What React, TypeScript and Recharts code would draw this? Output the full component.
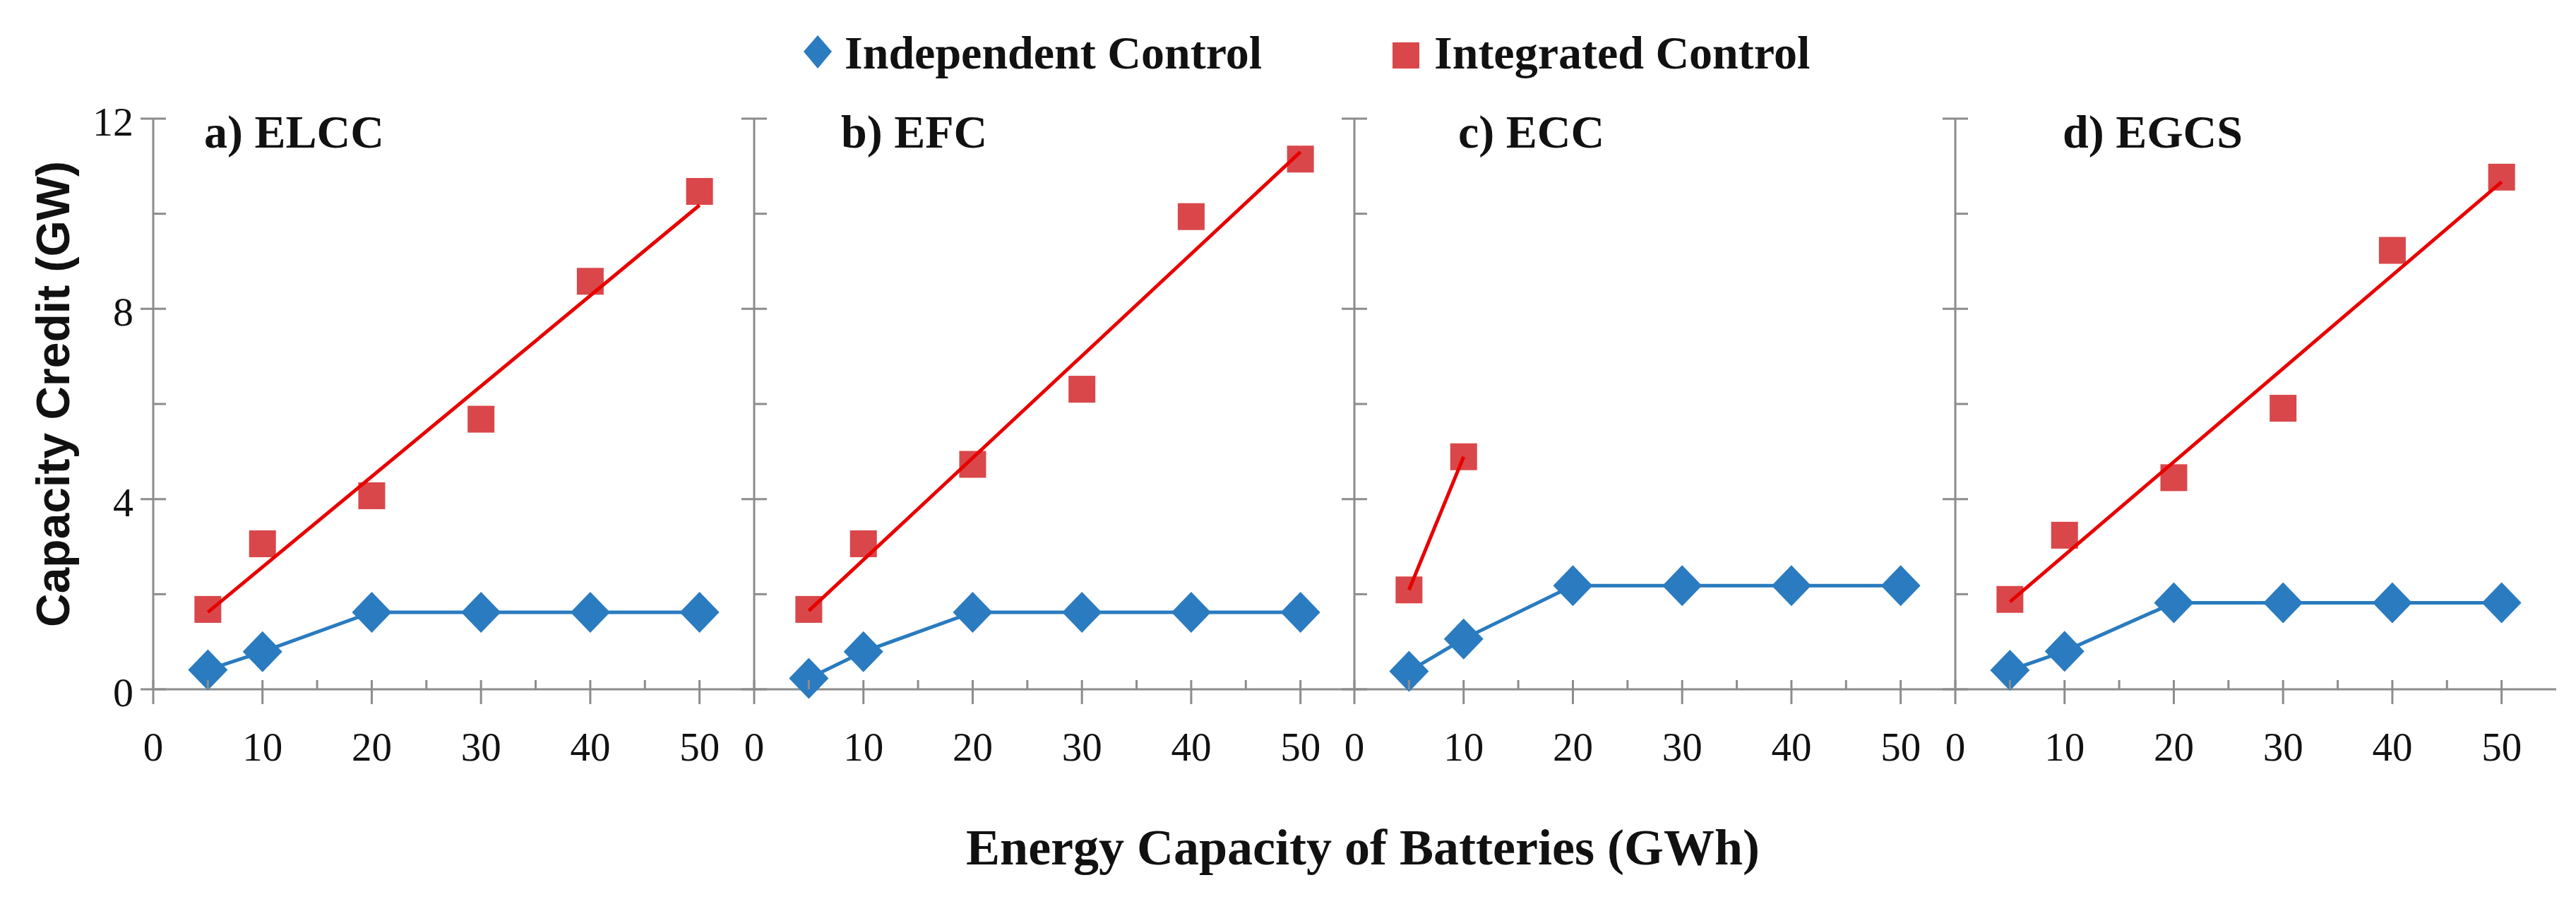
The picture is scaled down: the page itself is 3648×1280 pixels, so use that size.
import { ComposedChart, Line, Scatter, XAxis, YAxis } from "recharts"

// battery energy capacity (GWh)
const ENERGY = [5, 10, 20, 30, 40, 50]

// capacity credit (GW) per metric
const elccIndependent = [0.41, 0.79, 1.62, 1.62, 1.62, 1.62]
const elccIntegrated = [1.68, 3.06, 4.07, 5.68, 8.58, 10.47]
const elccTrend = [1.62, 10.18]

const efcIndependent = [0.23, 0.79, 1.62, 1.62, 1.62, 1.62]
const efcIntegrated = [1.68, 3.06, 4.73, 6.31, 9.94, 11.15]
const efcTrend = [1.65, 11.3]

const eccIndependent = [0.38, 1.06, 2.18, 2.18, 2.18, 2.18]
const eccIntegrated = [2.09, 4.89]
const eccTrend = [2.09, 4.89]

const egcsIndependent = [0.4, 0.8, 1.82, 1.82, 1.82, 1.82]
const egcsIntegrated = [1.89, 3.24, 4.45, 5.91, 9.23, 10.77]
const egcsTrend = [1.84, 10.67]

const TREND_X = [5, 50]
const TREND_X_ECC = [5, 10]

const X_TICKS = [0, 5, 10, 15, 20, 25, 30, 35, 40, 45, 50]
const Y_TICKS = [0, 2, 4, 6, 8, 10, 12]

const TITLES = ["a) ELCC", "b) EFC", "c) ECC", "d) EGCS"]

const BLUE = "#2a7bbf"
const RED_SQ = "#d9474a"
const RED_LINE = "#e80000"
const AXIS = "#8c8c8c"
const SERIF = "'Liberation Serif', 'DejaVu Serif', serif"
const SANS = "'Liberation Sans', Arial, sans-serif"

const pts = (xs: number[], ys: number[]) => xs.map((x, i) => ({ x, y: ys[i] }))

const panels = [
  { title: TITLES[0], ind: pts(ENERGY, elccIndependent), integ: pts(ENERGY, elccIntegrated), trend: pts(TREND_X, elccTrend) },
  { title: TITLES[1], ind: pts(ENERGY, efcIndependent), integ: pts(ENERGY, efcIntegrated), trend: pts(TREND_X, efcTrend) },
  { title: TITLES[2], ind: pts(ENERGY, eccIndependent), integ: pts(TREND_X_ECC, eccIntegrated), trend: pts(TREND_X_ECC, eccTrend) },
  { title: TITLES[3], ind: pts(ENERGY, egcsIndependent), integ: pts(ENERGY, egcsIntegrated), trend: pts(TREND_X, egcsTrend) },
]

// layout (px)
const AXIS_X = [217, 1068, 1918, 2769]
const TITLE_X = [289, 1191, 2065, 2921]
const PLOT_W = 851
const PLOT_TOP = 168
const PLOT_H = 808
const Y_AXIS_W = 130
const X_AXIS_H = 130
const M = { top: 68, right: 30, bottom: 0, left: 0 }

const XTick = (props: any) => {
  const { x, y, payload } = props
  const v = payload.value
  const major = v % 10 === 0
  return (
    <g>
      <line x1={x} x2={x} y1={y - 13} y2={major ? y + 21 : y} stroke={AXIS} strokeWidth={3} />
      {major && (
        <text x={x} y={y + 101} textAnchor="middle" fontFamily={SERIF} fontSize={57} fill="#111">
          {v}
        </text>
      )}
    </g>
  )
}

const makeYTick = (showLabels: boolean) => (props: any) => {
  const { x, y, payload } = props
  const v = payload.value
  const major = v % 4 === 0
  return (
    <g>
      <line x1={major ? x - 18 : x} x2={x + 18} y1={y} y2={y} stroke={AXIS} strokeWidth={3} />
      {showLabels && major && (
        <text x={x - 28} y={y + 24} textAnchor="end" fontFamily={SERIF} fontSize={58} fill="#111">
          {v}
        </text>
      )}
    </g>
  )
}

const Diamond = (props: any) => {
  const { cx, cy, index } = props
  if (cx == null || cy == null) return <g key={index} />
  return (
    <path
      key={index}
      d={`M${cx},${cy - 29} L${cx + 28},${cy} L${cx},${cy + 29} L${cx - 28},${cy} Z`}
      fill={BLUE}
    />
  )
}

const Square = (props: any) => {
  const { cx, cy } = props
  return <rect x={cx - 19} y={cy - 19} width={38} height={38} fill={RED_SQ} />
}

const NoShape = () => <g />

function Panel({ i }: { i: number }) {
  const p = panels[i]
  const w = Y_AXIS_W + PLOT_W + M.right
  const h = M.top + PLOT_H + X_AXIS_H
  return (
    <div style={{ position: "absolute", left: AXIS_X[i] - Y_AXIS_W, top: PLOT_TOP - M.top }}>
      <ComposedChart width={w} height={h} margin={M}>
        <XAxis
          type="number"
          dataKey="x"
          domain={[0, 55]}
          ticks={X_TICKS}
          interval={0}
          height={X_AXIS_H}
          tickSize={0}
          tickMargin={0}
          tickLine={false}
          axisLine={{ stroke: AXIS, strokeWidth: 3 }}
          tick={XTick}
        />
        <YAxis
          type="number"
          domain={[0, 12]}
          ticks={Y_TICKS}
          interval={0}
          width={Y_AXIS_W}
          tickSize={0}
          tickMargin={0}
          tickLine={false}
          axisLine={{ stroke: AXIS, strokeWidth: 3 }}
          tick={makeYTick(i === 0)}
        />
        <Line
          data={p.ind}
          dataKey="y"
          stroke={BLUE}
          strokeWidth={5}
          dot={Diamond}
          activeDot={false}
          isAnimationActive={false}
        />
        <Scatter data={p.integ} dataKey="y" shape={Square} isAnimationActive={false} />
        <Scatter
          data={p.trend}
          dataKey="y"
          line={{ stroke: RED_LINE, strokeWidth: 5 }}
          shape={NoShape}
          isAnimationActive={false}
        />
      </ComposedChart>
    </div>
  )
}

export default function App() {
  return (
    <div
      style={{
        position: "absolute",
        left: 0,
        top: 0,
        width: 3648,
        height: 1280,
        background: "#fff",
        overflow: "hidden",
      }}
    >
      <svg width={3648} height={1280} style={{ position: "absolute", left: 0, top: 0 }}>
        {/* legend */}
        <path d="M1158,50 L1178,73 L1158,97 L1138,73 Z" fill={BLUE} />
        <text x={1196} y={97} fontFamily={SERIF} fontWeight="bold" fontSize={66} fill="#111">
          Independent Control
        </text>
        <rect x={1972} y={60} width={38} height={37} fill={RED_SQ} />
        <text x={2031} y={97} fontFamily={SERIF} fontWeight="bold" fontSize={66} fill="#111">
          Integrated Control
        </text>

        {/* panel titles */}
        {panels.map((p, i) => (
          <text key={p.title} x={TITLE_X[i]} y={209} fontFamily={SERIF} fontWeight="bold" fontSize={66} fill="#111">
            {p.title}
          </text>
        ))}

        {/* axis titles */}
        <text
          x={98}
          y={558}
          transform="rotate(-90 98 558)"
          textAnchor="middle"
          fontFamily={SANS}
          fontWeight="bold"
          fontSize={66}
          fill="#111"
        >
          Capacity Credit (GW)
        </text>
        <text x={1930} y={1224} textAnchor="middle" fontFamily={SERIF} fontWeight="bold" fontSize={72} fill="#111">
          Energy Capacity of Batteries (GWh)
        </text>
      </svg>
      {panels.map((p, i) => (
        <Panel key={p.title} i={i} />
      ))}
    </div>
  )
}
